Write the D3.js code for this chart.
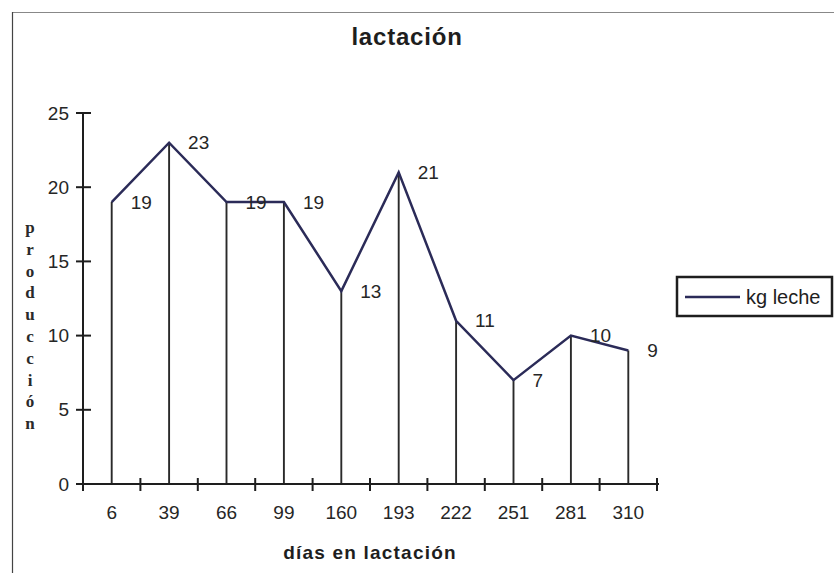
<!DOCTYPE html>
<html>
<head>
<meta charset="utf-8">
<script src="https://cdn.jsdelivr.net/npm/d3@7"></script>
<style>
  body { margin: 0; background: #fff; }
  svg { display: block; font-family: "Liberation Sans", Arial, sans-serif; }
</style>
</head>
<body>
<div id="chart"></div>
<script>
// data
var days = ['6', '39', '66', '99', '160', '193', '222', '251', '281', '310'];
var kgLeche = [19, 23, 19, 19, 13, 21, 11, 7, 10, 9];
var yTicks = [0, 5, 10, 15, 20, 25];
var yLetters = ['p', 'r', 'o', 'd', 'u', 'c', 'c', 'i', 'ó', 'n'];

var W = 834, H = 573;
var svg = d3.select('#chart').append('svg')
    .attr('width', W)
    .attr('height', H);

// frame (only top and left visible in the picture)
svg.append('line').attr('x1', 12).attr('x2', W).attr('y1', 12.5).attr('y2', 12.5)
   .attr('stroke', '#888').attr('stroke-width', 1.2);
svg.append('line').attr('x1', 12.5).attr('x2', 12.5).attr('y1', 12).attr('y2', H)
   .attr('stroke', '#444').attr('stroke-width', 1.2);

var x = d3.scaleBand().domain(days).range([83, 657]);
var y = d3.scaleLinear().domain([0, 25]).range([484, 113]);

var ink = '#1e1e1e';
var txt = '#262626';
var lineCol = '#2b2b58';

// title
svg.append('text')
   .attr('x', 407).attr('y', 37).attr('dy', '0.35em')
   .attr('text-anchor', 'middle')
   .style('font-size', '24px').style('font-weight', 'bold')
   .style('letter-spacing', '0.8px')
   .attr('fill', ink)
   .text('lactación');

// drop lines
svg.selectAll('line.drop')
   .data(kgLeche)
   .enter().append('line')
   .attr('class', 'drop')
   .attr('x1', function(d, i) { return x(days[i]) + x.bandwidth() / 2; })
   .attr('x2', function(d, i) { return x(days[i]) + x.bandwidth() / 2; })
   .attr('y1', function(d) { return y(d); })
   .attr('y2', y(0))
   .attr('stroke', '#2a2a2a').attr('stroke-width', 1.9);

// y axis
svg.append('line').attr('x1', 83).attr('x2', 83).attr('y1', y(25)).attr('y2', y(0))
   .attr('stroke', ink).attr('stroke-width', 2);
svg.selectAll('line.ytick')
   .data(yTicks)
   .enter().append('line')
   .attr('class', 'ytick')
   .attr('x1', 76).attr('x2', 91)
   .attr('y1', function(d) { return y(d); })
   .attr('y2', function(d) { return y(d); })
   .attr('stroke', ink).attr('stroke-width', 2);
svg.selectAll('text.ylab')
   .data(yTicks)
   .enter().append('text')
   .attr('class', 'ylab')
   .attr('x', 69)
   .attr('y', function(d) { return y(d); })
   .attr('dy', '0.35em')
   .attr('text-anchor', 'end')
   .style('font-size', '19px')
   .attr('fill', txt)
   .text(function(d) { return d; });

// x axis
svg.append('line').attr('x1', 79).attr('x2', 659).attr('y1', y(0)).attr('y2', y(0))
   .attr('stroke', ink).attr('stroke-width', 2);
var xBounds = days.map(function(d) { return x(d); }).concat([x.range()[1]]);
svg.selectAll('line.xtick')
   .data(xBounds)
   .enter().append('line')
   .attr('class', 'xtick')
   .attr('x1', function(d) { return d; })
   .attr('x2', function(d) { return d; })
   .attr('y1', y(0) - 6).attr('y2', y(0) + 7)
   .attr('stroke', ink).attr('stroke-width', 2);
svg.selectAll('text.xlab')
   .data(days)
   .enter().append('text')
   .attr('class', 'xlab')
   .attr('x', function(d) { return x(d) + x.bandwidth() / 2; })
   .attr('y', 512)
   .attr('dy', '0.35em')
   .attr('text-anchor', 'middle')
   .style('font-size', '19px')
   .attr('fill', txt)
   .text(function(d) { return d; });

// series line
var line = d3.line()
   .x(function(d, i) { return x(days[i]) + x.bandwidth() / 2; })
   .y(function(d) { return y(d); });
svg.append('path')
   .datum(kgLeche)
   .attr('d', line)
   .attr('fill', 'none')
   .attr('stroke', lineCol)
   .attr('stroke-width', 2.5)
   .attr('stroke-linejoin', 'miter');

// value labels
svg.selectAll('text.val')
   .data(kgLeche)
   .enter().append('text')
   .attr('class', 'val')
   .attr('x', function(d, i) { return x(days[i]) + x.bandwidth() / 2 + 19; })
   .attr('y', function(d) { return y(d); })
   .attr('dy', '0.35em')
   .style('font-size', '19px')
   .attr('fill', txt)
   .text(function(d) { return d; });

// axis titles
svg.append('text')
   .attr('x', 370).attr('y', 552).attr('dy', '0.35em')
   .attr('text-anchor', 'middle')
   .style('font-size', '19px').style('font-weight', 'bold')
   .style('letter-spacing', '1.2px')
   .attr('fill', ink)
   .text('días en lactación');

svg.selectAll('text.yletter')
   .data(yLetters)
   .enter().append('text')
   .attr('class', 'yletter')
   .attr('x', 30)
   .attr('y', function(d, i) { return 227 + i * 21.8; })
   .attr('dy', '0.35em')
   .attr('text-anchor', 'middle')
   .style('font-family', '"Liberation Serif", "Times New Roman", serif')
   .style('font-size', '17px').style('font-weight', 'bold')
   .attr('fill', '#2a2a2a')
   .text(function(d) { return d; });

// legend
var lg = svg.append('g').attr('transform', 'translate(677,277)');
lg.append('rect').attr('x', 0).attr('y', 0).attr('width', 155).attr('height', 39)
   .attr('fill', '#fff').attr('stroke', ink).attr('stroke-width', 2.5);
lg.append('line').attr('x1', 8).attr('x2', 63).attr('y1', 20).attr('y2', 20)
   .attr('stroke', lineCol).attr('stroke-width', 2.5);
lg.append('text').attr('x', 69).attr('y', 20).attr('dy', '0.35em')
   .style('font-size', '20px')
   .attr('fill', ink)
   .text('kg leche');
</script>
</body>
</html>
